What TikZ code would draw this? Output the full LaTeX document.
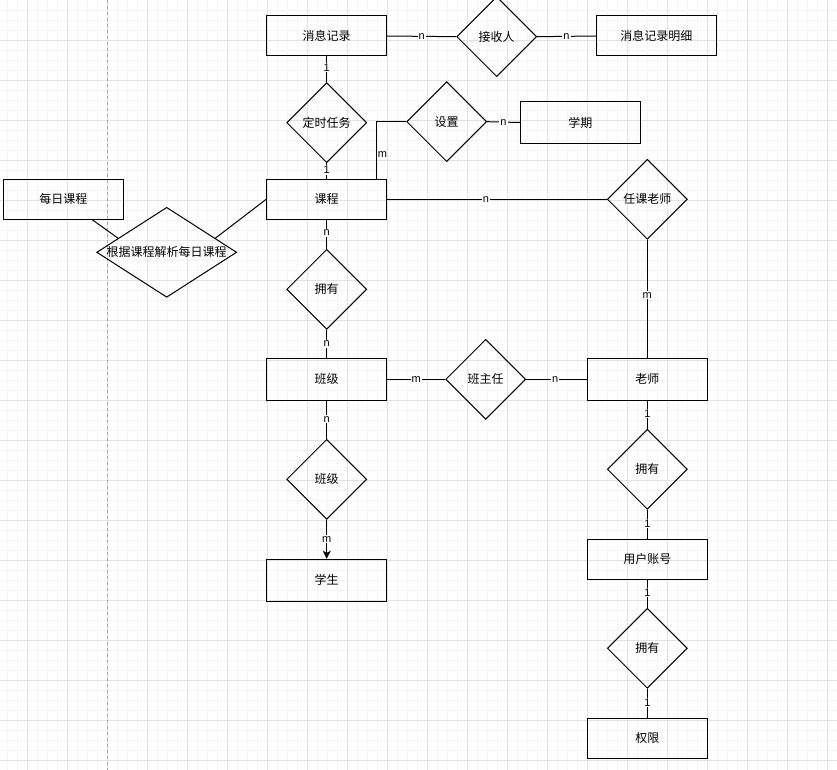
\documentclass[tikz,border=0pt]{standalone}
\usepackage{fontspec}
\setmainfont{Noto Sans CJK SC}
\newfontfamily\cardfont{Liberation Sans}
\usetikzlibrary{shapes.geometric,calc,arrows.meta}
\definecolor{gridminor}{RGB}{244,244,244}
\definecolor{gridmajor}{RGB}{226,226,226}

\begin{document}
\begin{tikzpicture}[
  x=1pt,y=-1pt,
  every node/.style={font=\fontsize{12}{14}\selectfont},
  entity/.style={draw,line width=1pt,minimum width=120pt,minimum height=40pt,inner sep=0pt},
  rel/.style={draw,diamond,line width=1pt,minimum width=80pt,minimum height=80pt,inner sep=0pt},
  link/.style={line width=1pt},
  card/.style={fill=white,inner sep=1pt,font=\cardfont\fontsize{11}{12}\selectfont},
  side/.style={anchor=west,inner sep=1pt,font=\cardfont\fontsize{11}{12}\selectfont}
]
\useasboundingbox (0,0) rectangle (837,770);

% ------------------------------------------------------------------
% Background grid
% ------------------------------------------------------------------
\foreach \gx in {0,...,83}
  \draw[gridminor] (6.7+10*\gx,0) -- (6.7+10*\gx,770);
\foreach \gy in {1,...,76}
  \draw[gridminor] (0,10*\gy) -- (837,10*\gy);
\foreach \gx in {0,...,20}
  \draw[gridmajor] (26.7+40*\gx,0) -- (26.7+40*\gx,770);
\foreach \gy in {1,...,19}
  \draw[gridmajor] (0,40*\gy) -- (837,40*\gy);
\draw[black!35,dashed] (106.7,0) -- (106.7,770);

% ------------------------------------------------------------------
% Entities
% ------------------------------------------------------------------
\node[entity] (msg)     at (326.7,36)    {消息记录};
\node[entity] (detail)  at (656.3,36)    {消息记录明细};
\node[entity,minimum height=42pt] (term) at (580.3,122.5) {学期};
\node[entity] (course)  at (326.7,199.3) {课程};
\node[entity] (daily)   at (63.3,199.3)  {每日课程};
\node[entity,minimum height=42pt] (class)   at (326.7,379.3) {班级};
\node[entity,minimum height=42pt] (teacher) at (647.3,379.3) {老师};
\node[entity,minimum height=42pt] (student) at (326.7,580.3) {学生};
\node[entity] (account) at (647.3,559.3) {用户账号};
\node[entity] (perm)    at (647.3,738.3) {权限};

% ------------------------------------------------------------------
% Relations
% ------------------------------------------------------------------
\node[rel] (recv)     at (496.7,36.7)  {接收人};
\node[rel] (timer)    at (326.7,122.7) {定时任务};
\node[rel] (setup)    at (446.7,121.7) {设置};
\node[rel] (teachrel) at (647.3,199.3) {任课老师};
\node[rel,minimum width=140pt,minimum height=90pt] (parse) at (166.7,252.3)
  {\makebox[0pt]{根据课程解析每日课程}};
\node[rel] (own1)     at (326.7,289.3) {拥有};
\node[rel] (head)     at (485.7,379.3) {班主任};
\node[rel] (cls)      at (326.7,479.3) {班级};
\node[rel] (own2)     at (647.3,469.3) {拥有};
\node[rel] (own3)     at (647.3,648.3) {拥有};

% ------------------------------------------------------------------
% Connectors
% ------------------------------------------------------------------
\draw[link] (msg.east) -- node[card] {n} (recv.west);
\draw[link] (recv.east) -- node[card] {n} (detail.west);
\draw[link] (msg.south) -- node[card,pos=0.42] {1} (timer.north);
\draw[link] (timer.south) -- node[card,pos=0.42] {1} (course.north);
\coordinate (cup) at ($(course.north west)!0.91!(course.north east)$);
\draw[link] (cup) |- node[side,pos=0.21] {m} (setup.west);
\draw[link] (setup.east) -- node[card] {n} (term.west);
\draw[link] (course.east) -- node[card,pos=0.45] {n} (teachrel.west);
\draw[link] (teachrel.south) -- node[card,pos=0.47] {m} (teacher.north);
\draw[link] ($(daily.south west)!0.74!(daily.south east)$) -- ($(parse.west)!0.31!(parse.north)$);
\draw[link] ($(parse.north)!0.69!(parse.east)$) -- (course.west);
\draw[link] (course.south) -- node[card,pos=0.45] {n} (own1.north);
\draw[link] (own1.south) -- node[card] {n} (class.north);
\draw[link] (class.east) -- node[card] {m} (head.west);
\draw[link] (head.east) -- node[card,pos=0.48] {n} (teacher.west);
\draw[link] (class.south) -- node[card,pos=0.49] {n} (cls.north);
\draw[link,-{Stealth[length=8pt,width=8pt,inset=2pt]}] (cls.south) -- node[card] {m} (student.north);
\draw[link] (teacher.south) -- node[card,pos=0.45] {1} (own2.north);
\draw[link] (own2.south) -- node[card,pos=0.47] {1} (account.north);
\draw[link] (account.south) -- node[card,pos=0.46] {1} (own3.north);
\draw[link] (own3.south) -- node[card,pos=0.47] {1} (perm.north);

\end{tikzpicture}
\end{document}
